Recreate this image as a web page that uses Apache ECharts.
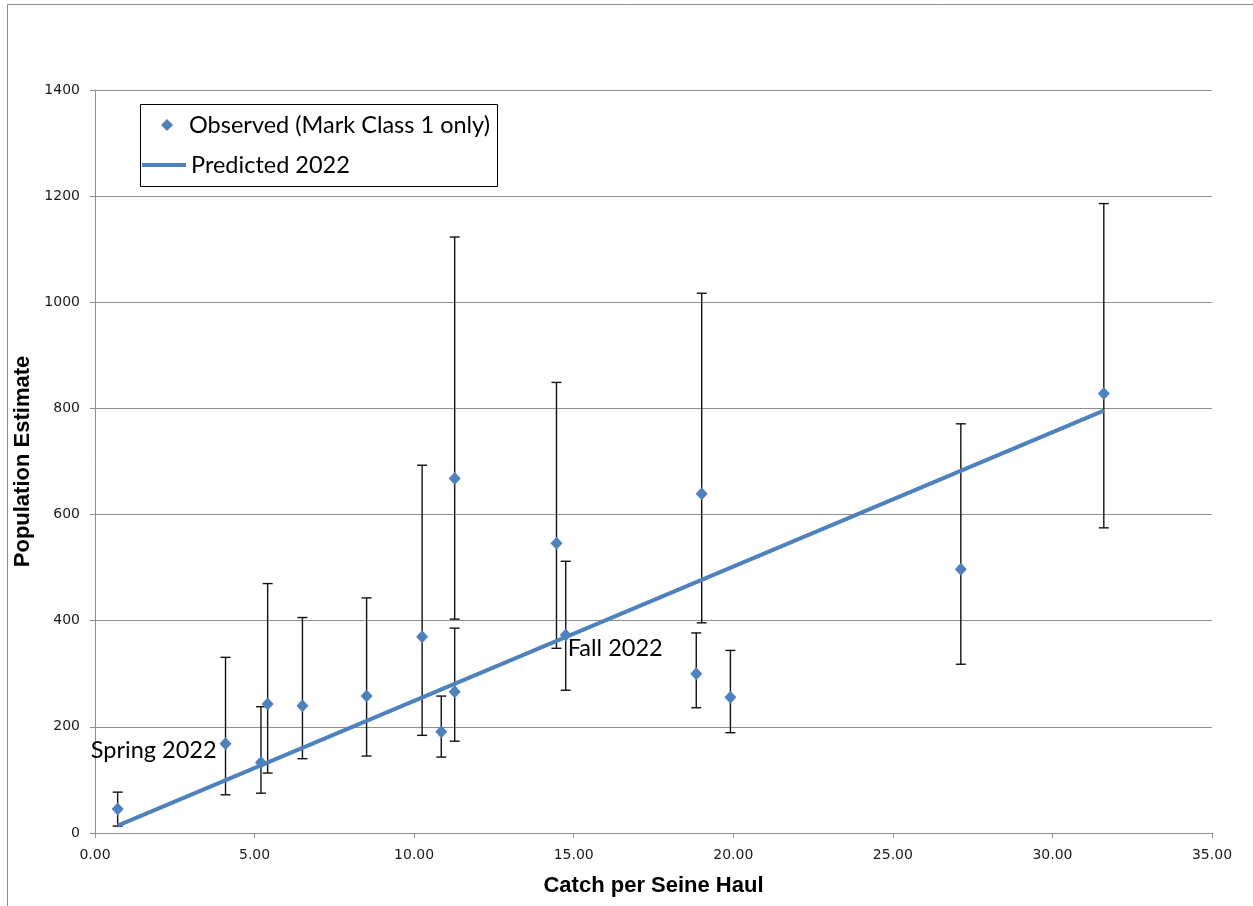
<!DOCTYPE html>
<html>
<head>
<meta charset="utf-8">
<script src="https://cdn.jsdelivr.net/npm/echarts@6/dist/echarts.min.js"></script>
<style>
  html, body { margin: 0; padding: 0; background: #ffffff; }
  #chart { width: 1253px; height: 906px; }
</style>
</head>
<body>
<div id="chart"></div>
<script>
// Observed population estimates (Mark Class 1 only) versus catch per seine haul
const catchPerHaul = [0.71, 4.09, 5.20, 5.41, 6.50, 8.51, 10.25, 10.85, 11.27, 11.27, 14.46, 14.75, 18.84, 19.01, 19.91, 27.13, 31.61];
const popEstimate  = [45, 168, 133, 243, 240, 258, 370, 191, 668, 266, 546, 373, 300, 639, 256, 497, 828];
const ciUpper      = [77, 331, 238, 470, 406, 443, 693, 258, 1123, 386, 849, 512, 377, 1017, 344, 771, 1186];
const ciLower      = [13, 72, 75, 113, 140, 145, 184, 143, 403, 173, 348, 269, 236, 396, 189, 318, 575];
const pointNames   = ['', 'Spring 2022', '', '', '', '', '', '', '', '', '', 'Fall 2022', '', '', '', '', ''];

// Predicted 2022 relationship (end points of the fitted line)
const predictedX = [0.71, 31.61];
const predictedY = [14, 796];

// Axis ticks
const xTicks = { min: 0, max: 35, step: 5 };
const yTicks = { min: 0, max: 1400, step: 200 };

const OBS_NAME = 'Observed (Mark Class 1 only)';
const PRED_NAME = 'Predicted 2022';

const BLUE = '#4F81BD';
const GRID_GRAY = '#8e8e8e';
const TEXT_FONT = 'Lato, "Noto Sans", sans-serif';
const TEXT_SIZE = 23.5;

const observedData = catchPerHaul.map((x, i) => {
  const item = { value: [x, popEstimate[i]] };
  if (pointNames[i]) {
    const isLeft = i === 1;
    item.label = {
      show: true,
      formatter: pointNames[i],
      position: isLeft ? 'left' : 'right',
      distance: isLeft ? 3 : -4,
      offset: isLeft ? [0, 7] : [0, 13],
      color: '#000',
      fontFamily: TEXT_FONT,
      fontSize: TEXT_SIZE
    };
  }
  return item;
});

const errorData = catchPerHaul.map((x, i) => [x, ciLower[i], ciUpper[i]]);
const predictedData = predictedX.map((x, i) => [x, predictedY[i]]);

const legendText = { color: '#000', fontFamily: TEXT_FONT, fontSize: TEXT_SIZE, lineHeight: 24 };

const chart = echarts.init(document.getElementById('chart'), null, { renderer: 'canvas' });

chart.setOption({
  backgroundColor: '#ffffff',
  animation: false,
  graphic: [
    {
      // outer chart frame
      type: 'rect',
      shape: { x: 7.5, y: 4.5, width: 1400, height: 1000 },
      style: { fill: 'none', stroke: '#8a8a8a', lineWidth: 1 },
      silent: true,
      z: -10
    },
    {
      // legend box
      type: 'rect',
      shape: { x: 140.5, y: 104.5, width: 357, height: 82 },
      style: { fill: '#ffffff', stroke: '#000000', lineWidth: 1 },
      silent: true,
      z: 3
    }
  ],
  grid: { left: 95, right: 41, top: 90, bottom: 73, containLabel: false },
  legend: [
    {
      left: 161,
      top: 113,
      z: 5,
      padding: 0,
      itemWidth: 12,
      itemHeight: 12,
      textStyle: Object.assign({ padding: [0, 0, 0, 11] }, legendText),
      data: [{ name: OBS_NAME, icon: 'diamond' }]
    },
    {
      left: 142,
      top: 153,
      z: 5,
      padding: 0,
      itemWidth: 44,
      itemHeight: 4,
      textStyle: legendText,
      data: [{ name: PRED_NAME, icon: 'rect' }]
    }
  ],
  xAxis: {
    type: 'value',
    min: xTicks.min,
    max: xTicks.max,
    interval: xTicks.step,
    name: 'Catch per Seine Haul',
    nameLocation: 'middle',
    nameGap: 42,
    nameTextStyle: {
      color: '#000',
      fontFamily: '"Liberation Sans", Arial, sans-serif',
      fontWeight: 'bold',
      fontSize: 22
    },
    axisLine: { show: true, lineStyle: { color: GRID_GRAY, width: 1 } },
    axisTick: { show: true, inside: false, length: 5, lineStyle: { color: GRID_GRAY } },
    axisLabel: {
      margin: 15,
      color: '#1a1a1a',
      fontFamily: '"DejaVu Sans", Verdana, sans-serif',
      fontSize: 14,
      formatter: v => v.toFixed(2)
    },
    splitLine: { show: false }
  },
  yAxis: {
    type: 'value',
    min: yTicks.min,
    max: yTicks.max,
    interval: yTicks.step,
    name: 'Population Estimate',
    nameLocation: 'middle',
    nameGap: 56,
    nameTextStyle: {
      color: '#000',
      fontFamily: '"Liberation Sans", Arial, sans-serif',
      fontWeight: 'bold',
      fontSize: 22
    },
    axisLine: { show: true, lineStyle: { color: GRID_GRAY, width: 1 } },
    axisTick: { show: true, inside: false, length: 5, lineStyle: { color: GRID_GRAY } },
    axisLabel: {
      margin: 15,
      color: '#1a1a1a',
      fontFamily: '"DejaVu Sans", Verdana, sans-serif',
      fontSize: 14,
      formatter: v => String(v)
    },
    splitLine: { show: true, lineStyle: { color: GRID_GRAY, width: 1.2 } }
  },
  series: [
    {
      // confidence interval whiskers
      name: 'Confidence interval',
      type: 'custom',
      z: 1,
      silent: true,
      data: errorData,
      encode: { x: 0, y: [1, 2] },
      renderItem: function (params, api) {
        const x = api.value(0);
        const lo = api.coord([x, api.value(1)]);
        const hi = api.coord([x, api.value(2)]);
        const half = 5;
        const style = { stroke: '#111111', lineWidth: 1.4 };
        return {
          type: 'group',
          children: [
            { type: 'line', shape: { x1: lo[0], y1: lo[1], x2: hi[0], y2: hi[1] }, style },
            { type: 'line', shape: { x1: hi[0] - half, y1: hi[1], x2: hi[0] + half, y2: hi[1] }, style },
            { type: 'line', shape: { x1: lo[0] - half, y1: lo[1], x2: lo[0] + half, y2: lo[1] }, style }
          ]
        };
      }
    },
    {
      name: PRED_NAME,
      type: 'line',
      z: 2,
      data: predictedData,
      showSymbol: false,
      symbol: 'none',
      lineStyle: { color: BLUE, width: 4 },
      itemStyle: { color: BLUE }
    },
    {
      name: OBS_NAME,
      type: 'scatter',
      z: 3,
      symbol: 'diamond',
      symbolSize: [12, 13],
      itemStyle: { color: BLUE, opacity: 1 },
      data: observedData
    }
  ]
});
</script>
</body>
</html>
